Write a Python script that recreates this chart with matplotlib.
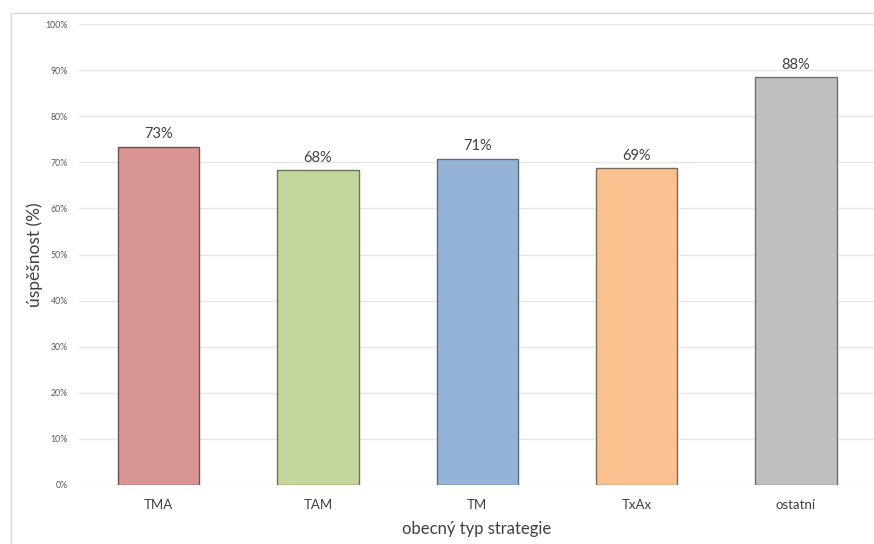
import matplotlib
matplotlib.use("Agg")
import matplotlib.pyplot as plt
from matplotlib.patches import Rectangle
from matplotlib.ticker import PercentFormatter

categories = ["TMA", "TAM", "TM", "TxAx", "ostatní"]
values = [0.734, 0.683, 0.708, 0.687, 0.884]
labels = ["73%", "68%", "71%", "69%", "88%"]
colors = ["#D99594", "#C3D69B", "#95B3D7", "#FAC090", "#BFBFBF"]
edges = ["#6e5353", "#6b7356", "#5a6b80", "#7a6a5a", "#6e6e6e"]

plt.rcParams['font.family'] = ['Lato', 'DejaVu Sans']

W, H = 874, 544
fig = plt.figure(figsize=(W/100, H/100), dpi=100)
fig.patches.append(Rectangle((11/W, -0.1), 1.2, 1 - 13/H + 0.1, transform=fig.transFigure,
                             fill=False, edgecolor="#d9d9d9", linewidth=1.0, zorder=0))

left, right = 79, 874
bottom, top = 485, 24
ax = fig.add_axes([left/W, 1 - bottom/H, (right-left)/W, (bottom-top)/H])
x = range(len(categories))
bars = ax.bar(x, values, width=0.51, color=colors, edgecolor=edges, linewidth=1.0, zorder=3)
for b, lab in zip(bars, labels):
    ax.text(b.get_x() + b.get_width()/2, b.get_height() + 0.012, lab,
            ha="center", va="bottom", fontsize=10.5, color="#404040")

ax.set_xlim(-0.5, 4.49)
ax.set_ylim(0, 1.0)
ax.set_yticks([i/10 for i in range(11)])
ax.yaxis.set_major_formatter(PercentFormatter(1.0, decimals=0))
ax.set_xticks(list(x))
ax.set_xticklabels(categories)
ax.grid(axis="y", color="#e6e6e6", linewidth=1.0, zorder=0)
for s in ax.spines.values():
    s.set_visible(False)
ax.tick_params(axis="y", length=0, labelsize=6.3, labelcolor="#595959", pad=8)
ax.tick_params(axis="x", length=0, labelsize=9.5, labelcolor="#404040", pad=10)
ax.set_ylabel("úspěšnost (%)", fontsize=12.5, color="#404040", labelpad=2)
ax.set_xlabel("obecný typ strategie", fontsize=12, color="#404040", labelpad=7)

fig.savefig("out.png", dpi=100)
